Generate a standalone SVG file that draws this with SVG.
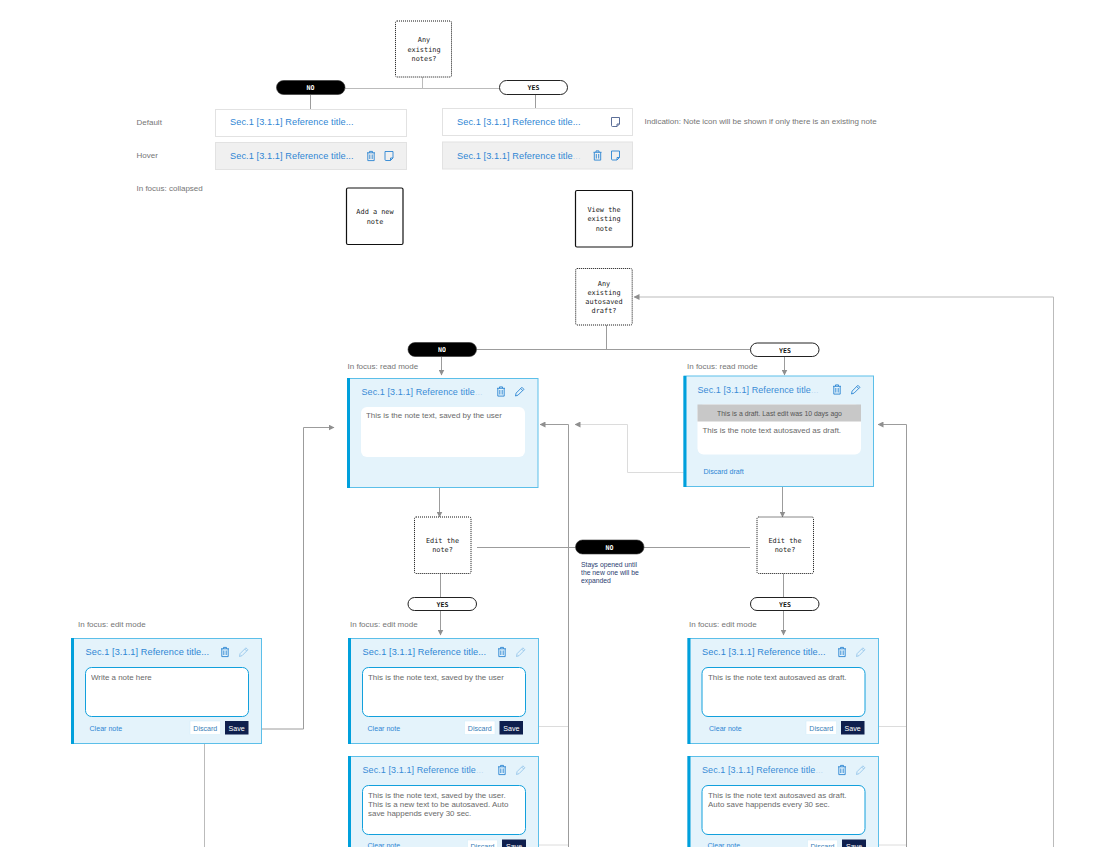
<svg xmlns="http://www.w3.org/2000/svg" width="1095" height="847" viewBox="0 0 1095 847">
<style>
text{font-family:"Liberation Sans",Arial,sans-serif;opacity:.999}
.lab{font-size:8px;fill:#757575}
.ttl{font-size:9.2px;fill:#2f86d4;letter-spacing:.08px}
.ttlc{font-size:9px;fill:#3a8cd6;letter-spacing:.08px}
.fade{fill-opacity:.25}
.mono{font-family:"DejaVu Sans Mono","Liberation Mono",monospace;font-size:6.9px;fill:#222;text-anchor:middle}
.pt{font-family:"DejaVu Sans Mono","Liberation Mono",monospace;font-size:6.6px;font-weight:700;text-anchor:middle}
.body{font-size:7.95px;fill:#6a6a6a}
.lnk{font-size:7.1px;fill:#2f86d4}
.dbtn{font-size:7.1px;fill:#3b7fb8;text-anchor:middle}
.sbtn{font-size:7.1px;fill:#fff;text-anchor:middle}
.dec{fill:#fff;stroke:#111;stroke-width:1;stroke-dasharray:1 1}
.act{fill:#fff;stroke:#111;stroke-width:1.2}
.no{fill:#000;stroke:#333;stroke-width:.6}
.yes{fill:#fff;stroke:#222;stroke-width:1}
.row{fill:#fff;stroke:#e2e2e2;stroke-width:1}
.hov{fill:#f0f0f0;stroke:#e2e2e2;stroke-width:1}
.card{fill:#e4f3fb;stroke:#5cbfe9;stroke-width:1}
.bar{fill:#00a0dc}
.in{fill:#fff;stroke:#12a0dc;stroke-width:1}
.c{fill:none;stroke:#9c9c9c;stroke-width:1}
.cl{fill:none;stroke:#dcdcdc;stroke-width:1}
.ic{fill:none;stroke:#2a84d2;stroke-width:.9}
.icl{fill:none;stroke:#8cc0e8;stroke-width:.8}
</style>
<defs>
<marker id="a" viewBox="0 0 6 6" refX="5.5" refY="3" markerWidth="6" markerHeight="6" orient="auto" markerUnits="userSpaceOnUse"><path d="M0 0L6 3L0 6Z" fill="#8f8f8f"/></marker>
<g id="trash"><path class="ic" d="M-4 -3.2H4M-1.5 -3.2V-4.6H1.5V-3.2M-3.2 -3.2V4.6H3.2V-3.2M-1.2 -1.5V3M1.2 -1.5V3"/></g>
<g id="note"><path class="ic" d="M-4 -4.5H4V2L1.5 4.5H-3A1 1 0 0 1 -4 3.5ZM4 2H1.5V4.5"/></g>
<g id="notedk"><path d="M-4 -4.5H4V2L1.5 4.5H-3A1 1 0 0 1 -4 3.5ZM4 2H1.5V4.5" fill="none" stroke="#4a5f8c" stroke-width=".9"/></g>
<g id="pen"><path class="ic" d="M-4 4.5L-3.4 1.6L2.4 -4.2L4.4 -2.2L-1.4 3.6ZM1.2 -3L3.2 -1"/></g>
<g id="penl"><path class="icl" d="M-4 4.5L-3.4 1.6L2.4 -4.2L4.4 -2.2L-1.4 3.6ZM1.2 -3L3.2 -1"/></g>
</defs>

<g id="connectors">
<path class="c" style="stroke:#bbb" d="M422.500 77V88.500M345 88.500H499"/>
<path class="c" marker-end="url(#a)" d="M310.500 95V114"/>
<path class="c" marker-end="url(#a)" d="M535.500 95V113"/>
<path class="c" d="M606.500 325V349.500M476.500 349.500H750"/>
<path class="c" marker-end="url(#a)" d="M441.500 357V375"/>
<path class="c" marker-end="url(#a)" d="M784.500 357V375"/>
<path class="c" marker-end="url(#a)" d="M439.500 488V517"/>
<path class="c" marker-end="url(#a)" d="M782.500 487V517"/>
<path class="c" d="M477 547.500H575.500M644 547.500H750"/>
<path class="c" d="M440.500 573V597M783.500 573V597"/>
<path class="c" marker-end="url(#a)" d="M440.500 610.500V635"/>
<path class="c" marker-end="url(#a)" d="M783.500 610.500V635"/>
<path class="c" marker-end="url(#a)" d="M262 729H303.500V427.500H334"/>
<path class="c" style="stroke:#bbb" d="M204.500 744V847"/>
<path class="cl" marker-end="url(#a)" d="M698 472.500H627.500V424.500H575"/>
<path class="c" marker-end="url(#a)" d="M568.500 847V424.500H540"/>
<path class="c" marker-end="url(#a)" d="M906.500 847V424.500H878"/>
<path class="c" style="stroke:#bbb" marker-end="url(#a)" d="M1053.500 847V297H634"/>
<path class="cl" d="M526 726.500H568M530 845H568M865 726.500H906M870 845H906"/>
</g>

<g id="labels">
<text class="lab" x="136.500" y="124.500">Default</text>
<text class="lab" x="136.500" y="158">Hover</text>
<text class="lab" x="136.500" y="190.500">In focus: collapsed</text>
<text class="lab" x="644.500" y="124">Indication: Note icon will be shown if only there is an existing note</text>
<text class="lab" x="347.500" y="369">In focus: read mode</text>
<text class="lab" x="687" y="369">In focus: read mode</text>
<text class="lab" x="78" y="627">In focus: edit mode</text>
<text class="lab" x="350" y="627">In focus: edit mode</text>
<text class="lab" x="689" y="627">In focus: edit mode</text>
<text x="581" y="567" fill="#2c3e70" font-size="6.800">Stays opened until</text><text x="581" y="575" fill="#2c3e70" font-size="6.800">the new one will be</text><text x="581" y="583" fill="#2c3e70" font-size="6.800">expanded</text>
</g>

<g id="d-notes"><rect class="dec" x="395.500" y="21" width="56" height="56" rx="1.500"/><text class="mono" x="424" y="42">Any</text><text class="mono" x="424" y="51.500">existing</text><text class="mono" x="424" y="61">notes?</text></g>
<g id="p-no1"><rect class="no" x="276.500" y="80.500" width="68.500" height="14" rx="7"/><text class="pt" x="310.500" y="90" fill="#fff">NO</text></g>
<g id="p-yes1"><rect class="yes" x="499.500" y="80.500" width="68" height="14" rx="7"/><text class="pt" x="533.500" y="90" fill="#111">YES</text></g>

<g id="row-default-no"><rect class="row" x="215.500" y="109.500" width="191" height="27"/><text class="ttl" x="230" y="125">Sec.1 [3.1.1] Reference title...</text></g>
<g id="row-hover-no"><rect class="hov" x="215.500" y="142.500" width="191" height="27"/><text class="ttl" x="230" y="159">Sec.1 [3.1.1] Reference title...</text><use href="#trash" x="371" y="156"/><use href="#note" x="389" y="156"/></g>
<g id="row-default-yes"><rect class="row" x="442.500" y="108.500" width="190" height="27"/><text class="ttl" x="457" y="125">Sec.1 [3.1.1] Reference title...</text><use href="#notedk" x="615.500" y="122"/></g>
<g id="row-hover-yes"><rect class="hov" x="442.500" y="142" width="190" height="27"/><text class="ttl" x="457" y="158.500">Sec.1 [3.1.1] Reference title<tspan class="fade">...</tspan></text><use href="#trash" x="597.500" y="155.500"/><use href="#note" x="615.500" y="155.500"/></g>

<g id="a-add"><rect class="act" x="346.500" y="188" width="56.500" height="56.500" rx="1.500"/><text class="mono" x="375" y="214">Add a new</text><text class="mono" x="375" y="223.500">note</text></g>
<g id="a-view"><rect class="act" x="575.500" y="190.500" width="57" height="56.500" rx="1.500"/><text class="mono" x="604" y="212">View the</text><text class="mono" x="604" y="221">existing</text><text class="mono" x="604" y="230.500">note</text></g>

<g id="d-draft"><rect class="dec" x="575.700" y="268.500" width="56.500" height="56.500" rx="1.500"/><text class="mono" x="604" y="285.500">Any</text><text class="mono" x="604" y="294.500">existing</text><text class="mono" x="604" y="303.500">autosaved</text><text class="mono" x="604" y="312.500">draft?</text></g>
<g id="p-no2"><rect class="no" x="408" y="342.500" width="68.500" height="14" rx="7"/><text class="pt" x="442" y="352" fill="#fff">NO</text></g>
<g id="p-yes2"><rect class="yes" x="750.500" y="343" width="68.500" height="13.500" rx="6.700"/><text class="pt" x="785" y="352.500" fill="#111">YES</text></g>

<g id="card-read"><rect class="card" x="347.500" y="378.500" width="190.500" height="109"/><rect class="bar" x="347" y="378" width="3" height="110"/><text class="ttlc" x="361.500" y="394.500">Sec.1 [3.1.1] Reference title<tspan class="fade">...</tspan></text><use href="#trash" x="501" y="391.500"/><use href="#pen" x="519.500" y="391.500"/><rect x="361" y="407" width="164" height="50" rx="6" fill="#fff"/><text class="body" x="366" y="417.500">This is the note text, saved by the user</text></g>

<g id="card-read-draft"><rect class="card" x="684" y="376" width="189.500" height="110.500"/><rect class="bar" x="683.500" y="376" width="3" height="111"/><text class="ttlc" x="697.500" y="392.500">Sec.1 [3.1.1] Reference title<tspan class="fade">...</tspan></text><use href="#trash" x="837" y="389.500"/><use href="#pen" x="855.500" y="389.500"/><rect x="697.500" y="404.500" width="163.500" height="50" rx="6" fill="#fff"/><path d="M697.500 404.500H861V421.500H697.500Z" fill="#c8c8c8"/><text x="779.500" y="415.500" font-size="6.900" fill="#555" text-anchor="middle">This is a draft. Last edit was 10 days ago</text><text class="body" x="702.500" y="433">This is the note text autosaved as draft.</text><text class="lnk" x="703.500" y="473.500">Discard draft</text></g>

<g id="d-edit1"><rect class="dec" x="414.500" y="517" width="56.500" height="56.500" rx="1.500"/><text class="mono" x="442.500" y="543">Edit the</text><text class="mono" x="442.500" y="552">note?</text></g>
<g id="d-edit2"><rect class="dec" x="757" y="517" width="56.500" height="56.500" rx="1.500"/><text class="mono" x="785" y="543">Edit the</text><text class="mono" x="785" y="552">note?</text></g>
<g id="p-no3"><rect class="no" x="575.500" y="540" width="68.500" height="14" rx="7"/><text class="pt" x="609.500" y="549.500" fill="#fff">NO</text></g>
<g id="p-yes3"><rect class="yes" x="408" y="597.500" width="68.500" height="13" rx="6.500"/><text class="pt" x="442.500" y="606.500" fill="#111">YES</text></g>
<g id="p-yes4"><rect class="yes" x="750.500" y="597.500" width="68.500" height="13" rx="6.500"/><text class="pt" x="785" y="606.500" fill="#111">YES</text></g>

<g id="card-edit-new"><rect class="card" x="71.500" y="638.500" width="190" height="105"/><rect class="bar" x="71" y="638" width="3" height="106"/><text class="ttl" x="85.500" y="655">Sec.1 [3.1.1] Reference title...</text><use href="#trash" x="225" y="652"/><use href="#penl" x="243.500" y="652"/><rect class="in" x="85.500" y="667.500" width="163" height="49" rx="6"/><text class="body" x="91" y="679.500">Write a note here</text><text class="lnk" x="89.500" y="730.500">Clear note</text><rect x="190" y="721" width="30.500" height="13.500" fill="#fff" stroke="#d5eefa" stroke-width=".6"/><text class="dbtn" x="205.300" y="730.500">Discard</text><rect x="225" y="721" width="23.500" height="13.500" fill="#0e1f4d"/><text class="sbtn" x="236.700" y="730.500">Save</text></g>

<g id="card-edit-saved"><rect class="card" x="348.500" y="638.500" width="190" height="105"/><rect class="bar" x="348" y="638" width="3" height="106"/><text class="ttl" x="362.500" y="655">Sec.1 [3.1.1] Reference title...</text><use href="#trash" x="502" y="652"/><use href="#penl" x="520.500" y="652"/><rect class="in" x="362.500" y="667.500" width="163" height="49" rx="6"/><text class="body" x="368" y="679.500">This is the note text, saved by the user</text><text class="lnk" x="367.500" y="730.500">Clear note</text><rect x="464.500" y="721" width="30.500" height="13.500" fill="#fff" stroke="#d5eefa" stroke-width=".6"/><text class="dbtn" x="479.800" y="730.500">Discard</text><rect x="499.500" y="721" width="23.500" height="13.500" fill="#0e1f4d"/><text class="sbtn" x="511.300" y="730.500">Save</text></g>

<g id="card-autosave-saved"><rect class="card" x="348.500" y="756.500" width="190" height="105"/><rect class="bar" x="348" y="756" width="3" height="106"/><text class="ttlc" x="362.500" y="773">Sec.1 [3.1.1] Reference title<tspan class="fade">...</tspan></text><use href="#trash" x="502" y="770"/><use href="#penl" x="520.500" y="770"/><rect class="in" x="362.500" y="785.500" width="163" height="49" rx="6"/><text class="body" x="368" y="797.500">This is the note text, saved by the user.</text><text class="body" x="368" y="806.500">This is a new text to be autosaved. Auto</text><text class="body" x="368" y="815.500">save happends every 30 sec.</text><text class="lnk" x="367.500" y="848">Clear note</text><rect x="467.500" y="840" width="30" height="13.500" fill="#fff" stroke="#d5eefa" stroke-width=".6"/><text class="dbtn" x="482.500" y="849">Discard</text><rect x="502" y="839.500" width="24" height="13.500" fill="#0e1f4d"/><text class="sbtn" x="514" y="849">Save</text></g>

<g id="card-edit-draft"><rect class="card" x="688" y="638.500" width="190.500" height="105"/><rect class="bar" x="687.500" y="638" width="3" height="106"/><text class="ttl" x="702" y="655">Sec.1 [3.1.1] Reference title...</text><use href="#trash" x="842" y="652"/><use href="#penl" x="860.500" y="652"/><rect class="in" x="702" y="667.500" width="163" height="49" rx="6"/><text class="body" x="708" y="679.500">This is the note text autosaved as draft.</text><text class="lnk" x="709" y="730.500">Clear note</text><rect x="806" y="721" width="30.500" height="13.500" fill="#fff" stroke="#d5eefa" stroke-width=".6"/><text class="dbtn" x="821.300" y="730.500">Discard</text><rect x="841" y="721" width="23.500" height="13.500" fill="#0e1f4d"/><text class="sbtn" x="852.700" y="730.500">Save</text></g>

<g id="card-autosave-draft"><rect class="card" x="688" y="756.500" width="190.500" height="105"/><rect class="bar" x="687.500" y="756" width="3" height="106"/><text class="ttlc" x="702" y="773">Sec.1 [3.1.1] Reference title<tspan class="fade">...</tspan></text><use href="#trash" x="842" y="770"/><use href="#penl" x="860.500" y="770"/><rect class="in" x="702" y="785.500" width="163" height="49" rx="6"/><text class="body" x="708" y="797.500">This is the note text autosaved as draft.</text><text class="body" x="708" y="806.500">Auto save happends every 30 sec.</text><text class="lnk" x="707.500" y="848">Clear note</text><rect x="807.500" y="840" width="30" height="13.500" fill="#fff" stroke="#d5eefa" stroke-width=".6"/><text class="dbtn" x="822.500" y="849">Discard</text><rect x="842" y="839.500" width="24" height="13.500" fill="#0e1f4d"/><text class="sbtn" x="854" y="849">Save</text></g>
</svg>
